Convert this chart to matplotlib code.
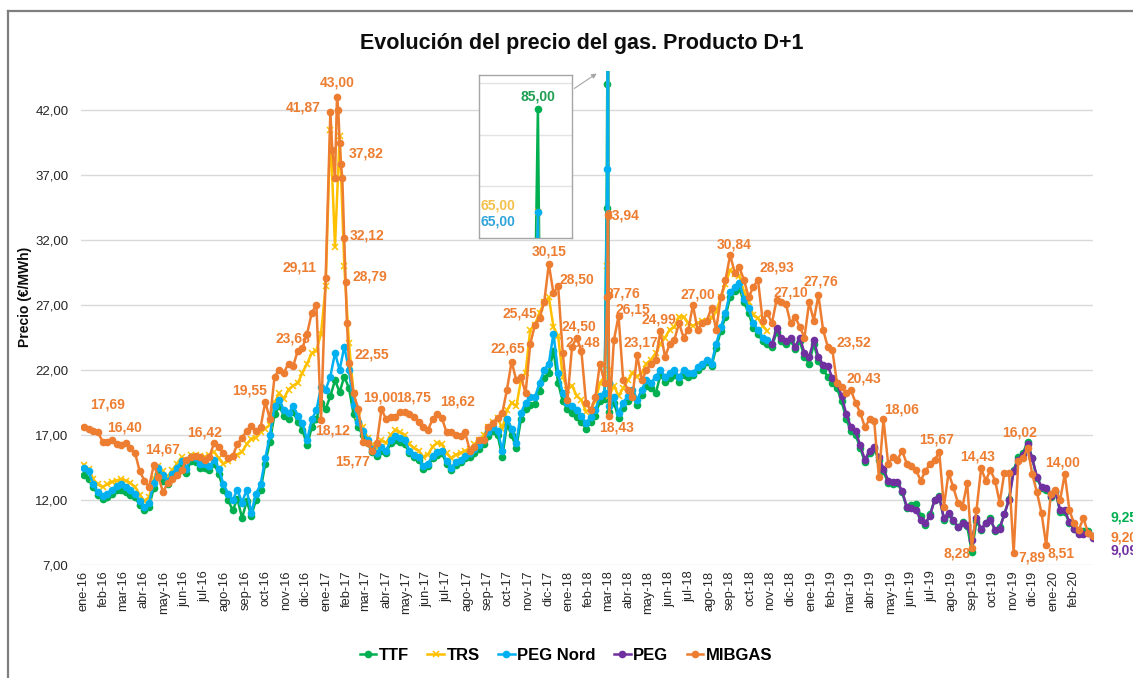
import matplotlib
matplotlib.use('Agg')
import matplotlib.pyplot as plt
import matplotlib.dates as mdates
from matplotlib.lines import Line2D
from matplotlib.ticker import FuncFormatter
import pandas as pd

plt.rcParams['font.family'] = ['Liberation Sans', 'DejaVu Sans']

# Weekly samples (Jan 2016 - Feb 2020)
weeks = pd.date_range('2016-01-02', periods=218, freq='7D')

mibgas = [17.6, 17.5, 17.3, 17.2, 16.5, 16.5, 16.6, 16.3, 16.2, 16.4,
          16.0, 15.6, 14.2, 13.5, 13.0, 14.67, 13.8, 12.6, 13.3, 13.6,
          13.9, 14.3, 15.1, 15.3, 15.4, 15.3, 15.1, 15.3, 16.42, 16.1,
          15.6, 15.2, 15.4, 16.3, 16.8, 17.3, 17.7, 17.3, 17.6, 19.55,
          18.2, 21.5, 22.0, 21.8, 22.5, 22.3, 23.5, 23.68, 24.8, 26.4,
          27.0, 18.12, 29.11, 41.87, 36.8, 39.5, 32.12, 22.55, 20.2, 19.0,
          16.5, 16.4, 15.77, 16.4, 19.0, 18.2, 18.4, 18.4, 18.8, 18.75,
          18.6, 18.4, 18.0, 17.6, 17.4, 18.2, 18.62, 18.3, 17.2, 17.2,
          17.0, 16.9, 17.2, 15.8, 16.1, 16.6, 16.6, 17.6, 17.9, 18.3,
          18.7, 20.5, 22.65, 21.2, 21.5, 20.2, 24.0, 25.45, 26.0, 27.2,
          30.15, 27.9, 28.5, 23.3, 19.7, 23.8, 24.5, 23.48, 19.5, 18.9,
          19.9, 22.5, 21.0, 18.43, 24.3, 26.15, 21.2, 20.5, 19.9, 23.17,
          21.2, 22.0, 22.5, 22.8, 24.99, 23.0, 24.0, 24.3, 25.6, 24.5,
          25.1, 27.0, 25.1, 25.6, 25.8, 26.8, 25.1, 27.6, 28.9, 30.84,
          29.5, 29.9, 28.9, 27.6, 28.4, 28.93, 25.8, 26.4, 25.6, 27.4,
          27.2, 27.10, 25.6, 26.1, 25.3, 24.5, 27.2, 25.8, 27.76, 25.1,
          23.8, 23.52, 21.0, 20.7, 20.2, 20.43, 19.5, 18.7, 17.6, 18.2,
          18.06, 13.8, 18.2, 14.8, 15.3, 15.1, 15.8, 14.8, 14.6, 14.3,
          13.5, 14.2, 14.8, 15.1, 15.67, 11.5, 14.1, 13.0, 11.8, 11.5,
          13.3, 8.28, 11.2, 14.43, 13.5, 14.3, 13.5, 11.8, 14.1, 14.1,
          7.89, 15.0, 15.2, 16.02, 14.0, 12.6, 11.0, 8.51, 12.5, 12.8,
          12.0, 14.0, 11.2, 10.2, 9.7, 10.6, 9.5, 9.20]

ttf = [13.9, 13.6, 13.0, 12.4, 12.1, 12.2, 12.5, 12.8, 12.8, 12.6,
       12.4, 12.2, 11.6, 11.2, 11.5, 12.9, 14.0, 13.5, 13.2, 13.7,
       14.2, 14.7, 14.1, 15.0, 14.9, 14.5, 14.5, 14.3, 14.8, 14.0,
       12.8, 12.0, 11.2, 12.1, 10.6, 11.9, 10.8, 12.0, 12.8, 14.8,
       16.5, 18.6, 19.2, 18.5, 18.2, 18.8, 18.0, 17.4, 16.2, 17.6,
       18.2, 19.5, 19.0, 20.0, 21.2, 20.3, 21.5, 20.6, 18.6, 17.6,
       17.0, 16.4, 15.7, 15.4, 15.8, 15.6, 16.4, 16.6, 16.5, 16.3,
       15.6, 15.3, 15.1, 14.4, 14.6, 15.2, 15.5, 15.6, 14.8, 14.3,
       14.7, 14.9, 15.2, 15.3, 15.6, 15.9, 16.3, 16.9, 17.3, 17.0,
       15.3, 17.8, 17.0, 16.0, 18.2, 19.0, 19.3, 19.4, 20.4, 21.4,
       21.8, 23.5, 21.0, 19.6, 19.0, 18.7, 18.4, 18.0, 17.5, 18.0,
       18.5, 19.6, 19.8, 18.8, 19.5, 18.3, 19.1, 19.6, 20.1, 19.3,
       20.1, 20.8, 20.6, 20.2, 21.6, 21.1, 21.4, 21.6, 21.1, 21.6,
       21.5, 21.6, 22.0, 22.3, 22.6, 22.3, 23.7, 25.0, 26.1, 27.6,
       28.1, 28.3, 27.2, 26.4, 25.2, 24.8, 24.2, 24.0,
       23.8, 24.9, 24.2, 24.0, 24.3, 23.6, 24.2, 23.0, 22.5, 24.0,
       22.7, 22.0, 21.5, 21.0, 20.6, 19.6, 18.2, 17.3, 17.0, 16.0,
       14.9, 15.6, 15.9, 15.1, 14.2, 13.3, 13.2, 13.3, 12.6, 11.4,
       11.6, 11.7, 10.8, 10.1, 10.9, 12.0, 12.3, 10.5, 10.9, 10.4,
       9.9, 10.3, 10.0, 8.0, 10.4, 9.7, 10.2, 10.6, 9.6, 9.9,
       10.9, 12.1, 14.3, 15.3, 15.6, 16.5, 15.2, 13.7, 12.9, 12.8,
       12.2, 12.6, 11.1, 11.1, 10.2, 9.8, 9.5, 9.6, 9.6, 9.25]

# TRS and PEG Nord end in Oct 2018, PEG starts in Nov 2018
trs = [14.7, 14.4, 13.6, 13.2, 13.0, 13.2, 13.4, 13.5, 13.6, 13.5,
       13.3, 13.0, 12.4, 11.9, 12.2, 13.6, 14.6, 14.2, 13.8, 14.3,
       14.8, 15.3, 15.0, 15.5, 15.5, 15.4, 15.3, 15.5, 15.7, 15.2,
       14.8, 15.0, 15.2, 15.5, 15.7, 16.3, 16.7, 16.8, 17.2, 17.5,
       17.8, 19.5, 20.2, 19.8, 20.5, 20.8, 21.0, 21.8, 22.5, 23.3,
       23.5, 24.8, 28.5, 40.5, 31.5, 40.0, 30.0, 24.1, 20.2, 18.5,
       17.6, 16.8, 16.2, 16.0, 16.6, 16.4, 17.0, 17.4, 17.2, 17.0,
       16.3, 16.0, 15.8, 15.3, 15.5, 16.1, 16.4, 16.3, 15.6, 15.2,
       15.5, 15.6, 15.8, 15.9, 16.3, 16.6, 17.0, 17.6, 18.0, 18.3,
       17.5, 18.9, 19.5, 19.2, 21.2, 21.8, 25.1, 25.5, 26.4, 27.2,
       27.6, 25.3, 24.6, 21.5, 20.5, 20.8, 20.0, 19.7, 18.8, 19.0,
       19.6, 21.0, 21.5, 20.0, 20.8, 20.0, 20.6, 21.2, 21.8, 21.5,
       21.8, 22.5, 22.8, 23.3, 24.0, 24.5, 25.1, 25.3, 26.1, 26.1,
       25.6, 25.4, 25.6, 25.8, 25.8, 26.0, 26.5, 27.6, 28.6, 29.7,
       29.4, 29.2, 28.0, 27.2, 26.2, 26.0, 25.4, 25.0]

peg_nord = [14.5, 14.2, 13.2, 12.6, 12.3, 12.5, 12.8, 13.1, 13.2, 13.0,
            12.8, 12.5, 11.9, 11.5, 11.8, 13.3, 14.5, 13.9, 13.5, 14.0,
            14.5, 15.0, 14.4, 15.3, 15.2, 14.8, 14.8, 14.6, 15.1, 14.4,
            13.2, 12.5, 12.0, 12.8, 11.8, 12.8, 11.0, 12.5, 13.2, 15.2,
            17.0, 19.2, 19.7, 18.9, 18.7, 19.2, 18.5, 17.9, 16.6, 18.2,
            18.9, 20.7, 20.5, 21.5, 23.3, 22.0, 23.8, 22.0, 19.3, 18.0,
            17.3, 16.6, 15.9, 15.6, 16.1, 15.8, 16.6, 16.9, 16.8, 16.6,
            15.8, 15.5, 15.3, 14.6, 14.8, 15.4, 15.7, 15.8, 15.0, 14.5,
            14.9, 15.1, 15.4, 15.6, 15.9, 16.2, 16.6, 17.2, 17.6, 17.3,
            15.8, 18.2, 17.5, 16.4, 18.7, 19.5, 19.9, 19.9, 21.0, 22.0,
            22.5, 24.8, 21.8, 20.2, 19.5, 19.2, 18.9, 18.5, 17.9, 18.4,
            18.9, 20.0, 20.2, 19.2, 19.9, 18.7, 19.5, 20.0, 20.5, 19.7,
            20.5, 21.2, 21.0, 21.5, 22.0, 21.5, 21.8, 22.0, 21.5, 22.0,
            21.8, 21.8, 22.2, 22.5, 22.8, 22.5, 24.0, 25.3, 26.4, 28.0,
            28.4, 28.7, 27.5, 26.8, 25.6, 25.1, 24.5, 24.3]

peg = [24.0, 25.2, 24.5, 24.2, 24.5, 23.8, 24.5, 23.3, 23.0, 24.3,
       23.0, 22.4, 22.3, 21.4, 21.0, 20.0, 18.6, 17.6, 17.3, 16.2,
       15.1, 15.8, 16.1, 15.3, 14.4, 13.5, 13.4, 13.4, 12.7, 11.5,
       11.4, 11.2, 10.5, 10.2, 10.8, 12.0, 12.2, 10.6, 11.0, 10.5,
       9.9, 10.2, 10.1, 8.9, 10.6, 9.8, 10.2, 10.5, 9.7, 9.8,
       10.9, 12.0, 14.2, 15.1, 15.5, 16.3, 15.2, 13.8, 13.0, 12.9,
       12.3, 12.7, 11.2, 11.2, 10.3, 9.8, 9.4, 9.4, 9.5, 9.09]

# daily extremes (Jan 2017 cold spell, 1 March 2018 spike)
mib_extra_dates = ['2017-01-10', '2017-01-17', '2017-01-19', '2017-01-23', '2017-01-25',
                   '2017-01-30', '2017-02-01', '2018-02-28', '2018-03-01', '2018-03-02']
mib_extra = [38.9, 43.0, 42.0, 37.82, 36.8, 28.79, 25.6, 27.6, 33.94, 27.76]
ttf_extra_dates = ['2018-02-27', '2018-02-28', '2018-03-01', '2018-03-02']
ttf_extra = [34.5, 44.0, 85.0, 21.0]
trs_extra_dates = ['2018-02-28', '2018-03-01', '2018-03-02']
trs_extra = [30.0, 65.0, 22.0]
pegn_extra_dates = ['2018-02-28', '2018-03-01', '2018-03-02']
pegn_extra = [37.5, 65.0, 21.0]

# data labels of MIBGAS peaks / troughs (text, date, height of label)
lbl_text = ['17,69', '16,40', '14,67', '16,42', '19,55', '23,68', '29,11', '41,87', '43,00',
            '37,82', '32,12', '28,79', '22,55', '18,12', '15,77', '19,00', '18,75', '18,62',
            '22,65', '25,45', '30,15', '28,50', '24,50', '23,48', '18,43', '33,94', '27,76',
            '26,15', '23,17', '24,99', '27,00', '30,84', '28,93', '27,10', '27,76', '23,52',
            '20,43', '18,06', '15,67', '14,43', '8,28', '16,02', '7,89', '14,00', '8,51']
lbl_date = ['2016-02-06', '2016-03-03', '2016-04-29', '2016-07-01', '2016-09-07', '2016-11-11',
            '2016-11-21', '2016-11-27', '2017-01-18', '2017-03-02', '2017-03-03', '2017-03-07',
            '2017-03-11', '2017-01-10', '2017-02-09', '2017-03-23', '2017-05-12', '2017-07-17',
            '2017-10-01', '2017-10-19', '2017-12-03', '2018-01-14', '2018-01-17', '2018-01-22',
            '2018-03-14', '2018-03-23', '2018-03-24', '2018-04-07', '2018-04-20', '2018-05-17',
            '2018-07-14', '2018-09-07', '2018-11-10', '2018-12-02', '2019-01-16', '2019-03-07',
            '2019-03-22', '2019-05-17', '2019-07-09', '2019-09-08', '2019-08-08', '2019-11-11',
            '2019-11-29', '2020-01-14', '2020-01-13']
lbl_y = [19.38, 17.54, 15.85, 17.23, 20.46, 24.46, 29.85, 42.23, 44.08, 38.62, 32.31, 29.23,
         23.23, 17.38, 15.0, 19.92, 19.85, 19.54, 23.69, 26.38, 31.08, 29.0, 25.31, 24.15,
         17.54, 33.92, 27.92, 26.62, 24.15, 25.85, 27.77, 31.62, 29.85, 28.0, 28.77, 24.08,
         21.38, 19.0, 16.62, 15.31, 7.92, 17.23, 7.54, 14.92, 7.92]

meses = ['ene', 'feb', 'mar', 'abr', 'may', 'jun', 'jul', 'ago', 'sep', 'oct', 'nov', 'dic']

c_ttf, c_trs, c_pegn, c_peg, c_mib = '#00B050', '#FFC000', '#00B0F0', '#7030A0', '#ED7D31'


def build(dates, vals, xdates, xvals):
    s = pd.Series(vals, index=dates)
    if xdates:
        s = pd.concat([s, pd.Series(xvals, index=pd.to_datetime(xdates))]).sort_index()
    return s


s_ttf = build(weeks, ttf, ttf_extra_dates, ttf_extra)
s_trs = build(weeks[:len(trs)], trs, trs_extra_dates, trs_extra)
s_pegn = build(weeks[:len(peg_nord)], peg_nord, pegn_extra_dates, pegn_extra)
s_peg = build(weeks[len(trs):], peg, [], [])
s_mib = build(weeks, mibgas, mib_extra_dates, mib_extra)

series = [(s_ttf, 'TTF', c_ttf, 'o'), (s_trs, 'TRS', c_trs, 'x'),
          (s_pegn, 'PEG Nord', c_pegn, 'o'), (s_peg, 'PEG', c_peg, 'o'),
          (s_mib, 'MIBGAS', c_mib, 'o')]

W, H = 1133, 678
fig = plt.figure(figsize=(W / 100, H / 100), dpi=100)
ax = fig.add_axes([81 / W, 1 - 565 / H, (1093 - 81) / W, (565 - 71) / H])


def draw(a):
    hs = []
    for i, (s, name, col, mk) in enumerate(series):
        ms = 3.8 if mk == 'x' else 4.4
        h, = a.plot(s.index, s.values, color=col, lw=1.8, marker=mk, ms=ms,
                    mew=1.1, label=name, zorder=2 + i)
        hs.append(h)
    return hs


handles = draw(ax)

ax.set_xlim(pd.Timestamp('2015-12-28 12:00'), pd.Timestamp('2020-02-29 12:00'))
ax.set_ylim(7, 45)
ax.set_yticks([7, 12, 17, 22, 27, 32, 37, 42])
ax.yaxis.set_major_formatter(FuncFormatter(lambda v, p: f'{v:.2f}'.replace('.', ',')))
ax.xaxis.set_major_locator(mdates.MonthLocator())
ax.xaxis.set_major_formatter(FuncFormatter(
    lambda v, p: f"{meses[mdates.num2date(v).month - 1]}-{mdates.num2date(v).strftime('%y')}"))
ax.tick_params(axis='x', length=0, pad=4, labelsize=9.3, labelrotation=90, colors='#262626')
ax.tick_params(axis='y', length=0, pad=9, labelsize=9.5, colors='#262626')
ax.grid(axis='y', color='#D9D9D9', lw=1)
ax.set_axisbelow(True)
for sp in ax.spines.values():
    sp.set_visible(False)

for t, d, y in zip(lbl_text, lbl_date, lbl_y):
    ax.text(pd.Timestamp(d), y, t, color=c_mib, fontsize=10, fontweight='bold',
            ha='center', va='center', zorder=10)

# end-of-period values at the right edge (cut by the picture edge, as in the original)
end_tr = ax.get_yaxis_transform()
ax.text(1.017, 10.62, '9,25', color=c_ttf, transform=end_tr, fontsize=10,
        fontweight='bold', va='center', clip_on=False)
ax.text(1.017, 9.15, '9,20', color=c_mib, transform=end_tr, fontsize=10,
        fontweight='bold', va='center', clip_on=False)
ax.text(1.017, 8.08, '9,09', color=c_peg, transform=end_tr, fontsize=10,
        fontweight='bold', va='center', clip_on=False)

# inset with the 1 March 2018 spike
ins = fig.add_axes([479 / W, 1 - 238 / H, 93 / W, 163 / H], zorder=20)
draw(ins)
ins.set_xlim(pd.Timestamp('2018-02-10'), pd.Timestamp('2018-03-12'))
ins.set_ylim(60, 91.5)
ins.set_yticks([70, 80, 90])
ins.set_xticks([])
ins.tick_params(axis='y', length=0, labelleft=False)
ins.grid(axis='y', color='#E3E3E3', lw=1)
ins.set_axisbelow(True)
ins.set_facecolor('white')
for sp in ins.spines.values():
    sp.set_color('#A6A6A6')
    sp.set_linewidth(1)
ins.text(0.634, 0.871, '85,00', color='#1E9E50', transform=ins.transAxes, fontsize=10,
         fontweight='bold', ha='center', va='center')
ins.text(0.20, 0.202, '65,00', color='#F4C04A', transform=ins.transAxes, fontsize=10,
         fontweight='bold', ha='center', va='center')
ins.text(0.20, 0.104, '65,00', color='#2FA4DA', transform=ins.transAxes, fontsize=10,
         fontweight='bold', ha='center', va='center')
fig.add_artist(matplotlib.patches.FancyArrowPatch(
    (572 / W, 1 - 90 / H), (599 / W, 1 - 72 / H), transform=fig.transFigure,
    arrowstyle='-|>', mutation_scale=7, color='#A6A6A6', lw=0.8))

fig.text(582 / W, 1 - 43 / H, 'Evolución del precio del gas. Producto D+1',
         ha='center', va='center', fontsize=15.5, fontweight='bold', color='#0D0D0D')
fig.text(25 / W, 1 - 297 / H, 'Precio (€/MWh)', rotation=90, ha='center', va='center',
         fontsize=10, fontweight='bold', color='#0D0D0D')

fig.legend(handles, [h.get_label() for h in handles], loc='center',
           bbox_to_anchor=(566 / W, 1 - 655 / H), ncol=5, frameon=False,
           prop={'weight': 'bold', 'size': 12}, handlelength=1.0,
           handletextpad=0.15, columnspacing=1.1)

# outer frame (left and top edges visible)
fig.add_artist(Line2D([8 / W, 8 / W], [0, 1 - 11 / H], transform=fig.transFigure,
                      color='#7F7F7F', lw=1.6))
fig.add_artist(Line2D([8 / W, 1], [1 - 11 / H, 1 - 11 / H], transform=fig.transFigure,
                      color='#7F7F7F', lw=1.6))

fig.savefig('out.png', dpi=100)
